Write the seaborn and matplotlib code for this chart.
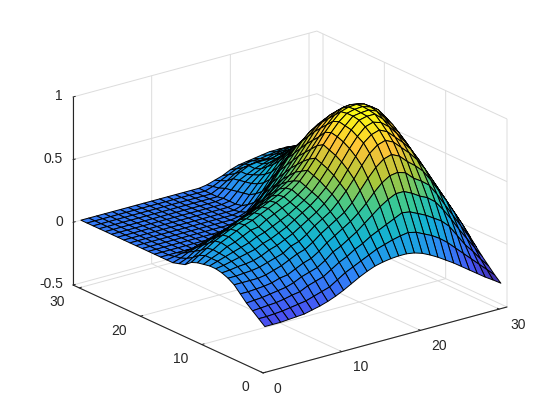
import numpy as np
import matplotlib
matplotlib.use("Agg")
import matplotlib.pyplot as plt
import seaborn as sns
from mpl_toolkits.mplot3d import proj3d

# grid and heights (one row per y, x = 1..31)
x_values = list(range(1, 32))
y_values = list(range(1, 32))
z_rows = [
    [-.17,-.17,-.17,-.165,-.16,-.155,-.14,-.125,-.105,-.08,-.05,-.015,.02,.05,.075,.09,.10,.105,.105,.095,.075,.045,.01,-.03,-.07,-.115,-.16,-.205,-.25,-.29,-.333],
    [-.13,-.13,-.125,-.12,-.11,-.10,-.09,-.07,-.05,-.03,.01,.05,.08,.11,.14,.17,.19,.21,.225,.235,.22,.19,.16,.12,.07,.01,-.05,-.11,-.17,-.23,-.29],
    [-.09,-.085,-.08,-.075,-.065,-.05,-.04,-.01,.01,.03,.07,.11,.14,.18,.21,.25,.28,.31,.34,.37,.36,.33,.30,.26,.22,.16,.07,-.02,-.09,-.17,-.24],
    [-.05,-.045,-.04,-.03,-.02,-.01,.01,.04,.06,.08,.12,.17,.20,.24,.28,.33,.38,.43,.47,.50,.50,.47,.43,.40,.35,.27,.18,.08,-.01,-.10,-.19],
    [0,0,.005,.01,.02,.04,.05,.08,.11,.13,.17,.22,.26,.30,.34,.39,.45,.52,.58,.62,.63,.61,.55,.51,.46,.37,.27,.17,.07,-.03,-.135],
    [.05,.05,.05,.05,.06,.08,.10,.13,.16,.18,.22,.27,.31,.35,.39,.45,.53,.61,.68,.73,.75,.72,.66,.61,.55,.46,.36,.26,.15,.04,-.077],
    [.08,.08,.085,.09,.10,.12,.14,.16,.20,.22,.26,.31,.35,.39,.45,.52,.60,.69,.77,.82,.84,.81,.75,.69,.62,.53,.42,.31,.20,.09,-.02],
    [.10,.105,.115,.12,.13,.15,.18,.20,.23,.26,.30,.34,.38,.43,.49,.56,.65,.74,.83,.88,.90,.87,.81,.75,.68,.58,.47,.36,.25,.14,.03],
    [.11,.12,.135,.15,.165,.18,.21,.23,.26,.29,.33,.37,.41,.46,.52,.60,.69,.78,.86,.92,.94,.92,.87,.80,.72,.62,.51,.40,.29,.18,.08],
    [.11,.13,.15,.17,.19,.21,.24,.26,.29,.32,.35,.39,.43,.48,.55,.63,.72,.81,.89,.95,.965,.965,.91,.84,.77,.67,.56,.45,.34,.23,.13],
    [.10,.13,.155,.19,.21,.24,.27,.28,.32,.35,.38,.41,.45,.50,.57,.65,.74,.83,.90,.96,.97,.975,.95,.88,.81,.71,.60,.50,.39,.28,.175],
    [.09,.13,.16,.20,.23,.26,.29,.31,.34,.37,.40,.43,.47,.52,.59,.67,.76,.84,.91,.96,.975,.98,.96,.92,.84,.75,.65,.55,.44,.33,.215],
    [.07,.11,.15,.19,.22,.25,.28,.30,.33,.36,.39,.42,.46,.50,.56,.64,.73,.82,.89,.95,.97,.975,.96,.92,.86,.78,.69,.59,.48,.38,.26],
    [.03,.07,.11,.15,.18,.21,.24,.27,.29,.32,.35,.39,.43,.47,.53,.60,.68,.76,.84,.90,.94,.95,.94,.91,.85,.78,.69,.59,.49,.39,.30],
    [.015,.04,.08,.11,.14,.16,.19,.21,.24,.27,.30,.34,.38,.43,.48,.55,.63,.71,.79,.85,.89,.91,.90,.88,.83,.76,.68,.58,.49,.40,.32],
    [0,.02,.05,.07,.09,.11,.14,.16,.19,.22,.25,.29,.33,.38,.43,.50,.58,.66,.74,.80,.84,.86,.86,.84,.79,.73,.66,.57,.49,.40,.33],
    [0,.01,.02,.03,.05,.07,.09,.11,.13,.15,.18,.21,.25,.31,.37,.44,.52,.60,.68,.74,.78,.80,.80,.79,.75,.70,.63,.55,.47,.40,.33],
    [0,0,0,0,0,0,.01,.03,.05,.08,.10,.12,.17,.24,.31,.38,.46,.54,.62,.68,.72,.73,.74,.73,.70,.66,.60,.53,.46,.39,.33],
    [0]*8 + [.01,.03,.05,.07,.12,.18,.25,.32,.40,.48,.55,.60,.64,.66,.67,.67,.65,.61,.56,.50,.44,.38,.32],
    [0]*10 + [.01,.02,.05,.10,.17,.24,.32,.40,.47,.53,.57,.585,.60,.61,.60,.57,.52,.47,.42,.36,.31],
    [0]*12 + [.01,.04,.09,.15,.23,.31,.39,.45,.50,.52,.54,.55,.54,.52,.48,.44,.39,.34,.30],
    [0]*13 + [.01,.03,.09,.16,.24,.32,.39,.44,.47,.48,.49,.49,.47,.44,.41,.37,.33,.29],
    [0]*14 + [.01,.05,.12,.19,.26,.33,.38,.41,.43,.44,.44,.43,.40,.37,.34,.31,.28],
    [0]*15 + [.02,.09,.16,.22,.28,.32,.35,.37,.39,.39,.39,.38,.36,.34,.31,.27],
    [0]*15 + [.01,.08,.14,.19,.24,.27,.30,.32,.34,.35,.35,.34,.33,.31,.28,.26],
    [0]*15 + [.01,.07,.13,.17,.20,.23,.25,.27,.29,.30,.31,.31,.30,.28,.26,.24],
    [0]*15 + [.01,.06,.12,.15,.18,.20,.22,.24,.25,.26,.26,.25,.24,.22,.20,.19],
    [0]*15 + [.0,.05,.11,.15,.18,.19,.19,.19,.21,.22,.23,.23,.22,.21,.19,.18],
    [0]*15 + [0,.03,.07,.11,.14,.15,.16,.16,.18,.19,.20,.20,.19,.18,.17,.16],
    [0]*15 + [0,.02,.05,.08,.11,.13,.14,.14,.15,.16,.17,.17,.16,.15,.14,.13],
    [0]*15 + [0,.01,.03,.05,.08,.10,.11,.12,.13,.14,.14,.14,.13,.12,.12,.11],
]

x_ticks = [0, 10, 20, 30]
y_ticks = [0, 10, 20, 30]
z_ticks = [-0.5, 0, 0.5, 1]
z_tick_labels = ["-0.5", "0", "0.5", "1"]

parula_colors = ["#3e2698", "#4852f4", "#2e87f7", "#12b1d6", "#37c897", "#abc739", "#fec338", "#f9fb14"]

sns.set_style("white")
plt.rcParams["font.family"] = ["Liberation Sans", "DejaVu Sans"]

X, Y = np.meshgrid(x_values, y_values)
Z = np.array(z_rows)
cmap = sns.blend_palette(parula_colors, as_cmap=True)

fig = plt.figure(figsize=(5.6, 4.2), dpi=100, facecolor="white")
ax = fig.add_axes([0.1, 0.1, 0.8, 0.8], projection="3d", proj_type="ortho")
ax.view_init(elev=20.7, azim=-127.4)
ax.set_box_aspect((307, 313, 201))

ax.plot_surface(X, Y, Z, rstride=1, cstride=1, cmap=cmap, vmin=Z.min(), vmax=Z.max(),
                edgecolor="black", linewidth=0.7, shade=False, antialiased=True)

ax.set_xlim(0, 31)
ax.set_ylim(0, 31)
ax.set_zlim(-0.5, 1)
ax.set_xticks(x_ticks)
ax.set_yticks(y_ticks)
ax.set_zticks(z_ticks)
ax.set_zticklabels(z_tick_labels)
ax.tick_params(labelsize=10, labelcolor="#262626")
ax.tick_params(axis="x", pad=2)
ax.tick_params(axis="y", pad=2)
ax.tick_params(axis="z", pad=-4)
plt.setp(ax.xaxis.get_ticklabels(), ha="left", va="center")
plt.setp(ax.yaxis.get_ticklabels(), ha="right", va="center")
plt.setp(ax.zaxis.get_ticklabels(), ha="right", va="center")

for axis in (ax.xaxis, ax.yaxis, ax.zaxis):
    axis.set_pane_color((1, 1, 1, 0))
    axis.pane.set_edgecolor((1, 1, 1, 0))
    axis.line.set_color("#262626")
    axis.line.set_linewidth(0.8)
    axis._axinfo["grid"]["color"] = "#dcdcdc"
    axis._axinfo["grid"]["linewidth"] = 0.7
    axis._axinfo["tick"]["inward_factor"] = 0
    axis._axinfo["tick"]["outward_factor"] = 0.12
    axis._axinfo["tick"]["linewidth"] = {True: 0.7, False: 0.5}
    axis._axinfo["tick"]["color"] = "#262626"
ax.zaxis.set_ticks_position("upper")


def corner_px(x, y, z):
    px, py, _ = proj3d.proj_transform(x, y, z, ax.get_proj())
    return ax.transData.transform((px, py))


# fit the box onto the reference frame corners
for _ in range(3):
    ax.apply_aspect()
    fig.canvas.draw()
    left = corner_px(0, 31, -0.5)
    right = corner_px(31, 0, -0.5)
    scale = (507 - 73) / (right[0] - left[0])
    pos = ax.get_position()
    cx, cy = pos.x0 + pos.width / 2, pos.y0 + pos.height / 2
    ax.set_position([cx - pos.width * scale / 2, cy - pos.height * scale / 2, pos.width * scale, pos.height * scale])
    fig.canvas.draw()
    left = corner_px(0, 31, -0.5)
    pos = ax.get_position()
    ax.set_position([pos.x0 + (73 - left[0]) / 560, pos.y0 + ((420 - 285) - left[1]) / 420, pos.width, pos.height])

fig.savefig("out.png", dpi=100, facecolor="white")
